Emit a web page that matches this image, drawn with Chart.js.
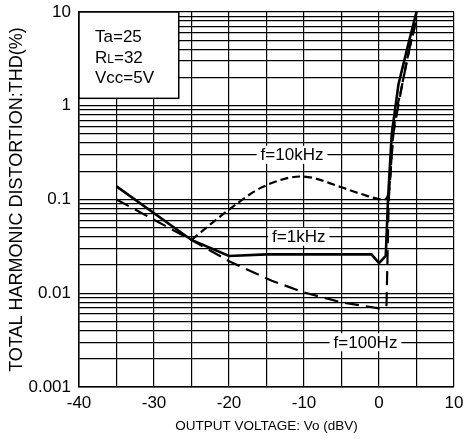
<!DOCTYPE html>
<html>
<head>
<meta charset="utf-8">
<script src="https://cdn.jsdelivr.net/npm/chart.js@4.4.0/dist/chart.umd.min.js"></script>
<style>
  html, body { margin: 0; padding: 0; background: #fff; }
  #wrap { width: 464px; height: 439px; }
</style>
</head>
<body>
<div id="wrap"><canvas id="thd"></canvas></div>
<script>
// tick labels
const xLabels = [-40, -30, -20, -10, 0, 10];
const yLabels = [0.001, 0.01, 0.1, 1, 10];

// f=1kHz (solid)
const khz1X = [-35, -25, -20, -15, -5, -1, 0, 0.9, 1.2, 1.7, 2.6, 3.8, 5];
const khz1Y = [0.138, 0.037, 0.025, 0.026, 0.026, 0.026, 0.021, 0.025, 0.1, 0.5, 1.7, 4.2, 10];

// f=10kHz (short dash), shares the 100Hz trace below -25 dBV
const khz10X = [-25, -20, -15.6, -10.3, -5, -2.6, 0.7, 1.3, 1.9, 3.1, 4.1, 4.9];
const khz10Y = [0.037, 0.078, 0.135, 0.176, 0.135, 0.116, 0.1, 0.12, 0.5, 1.7, 4.2, 7.7];

// f=100Hz (long dash)
const hz100X = [-35, -25, -20, -14.3, -10, -5, 0, 0.9, 1.0, 1.3, 1.9, 3.1, 4.1, 4.9];
const hz100Y = [0.1, 0.037, 0.022, 0.0136, 0.0102, 0.008, 0.0069, 0.0072, 0.0075, 0.1, 0.5, 1.7, 4.2, 7.7];

const FONT = "'Liberation Sans', Arial, Helvetica, sans-serif";

const pts = (xs, ys) => xs.map((x, i) => ({ x: x, y: ys[i] }));

// grid lines 1..9 in every decade
const yGrid = [];
[0.001, 0.01, 0.1, 1].forEach(d => {
  for (let k = 1; k < 10; k++) yGrid.push(+(d * k).toPrecision(3));
});
yGrid.push(10);

const notes = {
  id: 'notes',
  afterDatasetsDraw(chart) {
    const { ctx, scales: { x, y } } = chart;
    ctx.save();

    // conditions box
    const l = x.getPixelForValue(-40), t = y.getPixelForValue(10);
    const r = x.getPixelForValue(-26.7), b = y.getPixelForValue(1.2);
    ctx.fillStyle = '#fff';
    ctx.fillRect(l, t, r - l, b - t);
    ctx.strokeStyle = '#000';
    ctx.lineWidth = 1.5;
    ctx.strokeRect(l, t, r - l, b - t);

    ctx.fillStyle = '#000';
    ctx.textBaseline = 'alphabetic';
    ctx.textAlign = 'left';
    const tx = l + 16;
    ctx.font = '17px ' + FONT;
    ctx.fillText('Ta=25', tx, t + 30);
    ctx.fillText('R', tx, t + 51);
    let w = ctx.measureText('R').width;
    ctx.font = '12px ' + FONT;
    ctx.fillText('L', tx + w, t + 51);
    w += ctx.measureText('L').width;
    ctx.font = '17px ' + FONT;
    ctx.fillText('=32', tx + w, t + 51);
    ctx.fillText('Vcc=5V', tx, t + 71);

    // curve labels
    const tag = (text, xv, yv) => {
      ctx.font = '17px ' + FONT;
      const cx = x.getPixelForValue(xv), cy = y.getPixelForValue(yv);
      const tw = ctx.measureText(text).width;
      ctx.fillStyle = '#fff';
      ctx.fillRect(cx - tw / 2 - 4, cy - 9, tw + 8, 18);
      ctx.fillStyle = '#000';
      ctx.textAlign = 'center';
      ctx.textBaseline = 'middle';
      ctx.fillText(text, cx, cy + 1);
    };
    tag('f=10kHz', -11.6, 0.3);
    tag('f=1kHz', -10.7, 0.04);
    tag('f=100Hz', -1.8, 0.003);
    ctx.restore();
  }
};

new Chart(document.getElementById('thd'), {
  type: 'line',
  data: {
    datasets: [
      {
        label: 'f=1kHz',
        data: pts(khz1X, khz1Y),
        borderColor: '#000',
        borderWidth: 2.6,
        pointRadius: 0,
        tension: 0
      },
      {
        label: 'f=10kHz',
        data: pts(khz10X, khz10Y),
        borderColor: '#000',
        borderWidth: 2.2,
        borderDash: [8, 4],
        pointRadius: 0,
        cubicInterpolationMode: 'monotone'
      },
      {
        label: 'f=100Hz',
        data: pts(hz100X, hz100Y),
        borderColor: '#000',
        borderWidth: 2.2,
        borderDash: [14, 7],
        pointRadius: 0,
        tension: 0
      }
    ]
  },
  options: {
    responsive: true,
    maintainAspectRatio: false,
    animation: false,
    devicePixelRatio: 1,
    layout: { padding: { top: 12, right: 10, left: 0, bottom: 0 } },
    plugins: {
      legend: { display: false },
      tooltip: { enabled: false }
    },
    scales: {
      x: {
        type: 'linear',
        min: -40,
        max: 10,
        afterFit: s => { s.height = 52; s.paddingLeft = 0; s.paddingRight = 0; },
        ticks: {
          stepSize: 5,
          autoSkip: false,
          maxRotation: 0,
          padding: 6,
          color: '#000',
          font: { family: FONT, size: 17 },
          callback: v => xLabels.includes(v) ? v : ''
        },
        grid: { color: '#000', lineWidth: 1.2, drawTicks: false },
        border: { color: '#000', width: 1.5 },
        title: {
          display: true,
          text: 'OUTPUT VOLTAGE: Vo (dBV)',
          color: '#000',
          font: { family: FONT, size: 13.5 },
          padding: { top: 0, bottom: 5 }
        }
      },
      y: {
        type: 'logarithmic',
        min: 0.001,
        max: 10,
        afterFit: s => { s.width = 79; s.paddingTop = 0; s.paddingBottom = 0; },
        afterBuildTicks: s => { s.ticks = yGrid.map(v => ({ value: v })); },
        ticks: {
          autoSkip: false,
          padding: 8,
          color: '#000',
          font: { family: FONT, size: 17 },
          callback: v => yLabels.includes(v) ? String(v) : ''
        },
        grid: { color: '#000', lineWidth: 1.2, drawTicks: false },
        border: { color: '#000', width: 1.5 },
        title: {
          display: true,
          text: 'TOTAL HARMONIC DISTORTION:THD(%)',
          color: '#000',
          font: { family: FONT, size: 18 },
          padding: { top: 6, bottom: 0 }
        }
      }
    }
  },
  plugins: [notes]
});
</script>
</body>
</html>
